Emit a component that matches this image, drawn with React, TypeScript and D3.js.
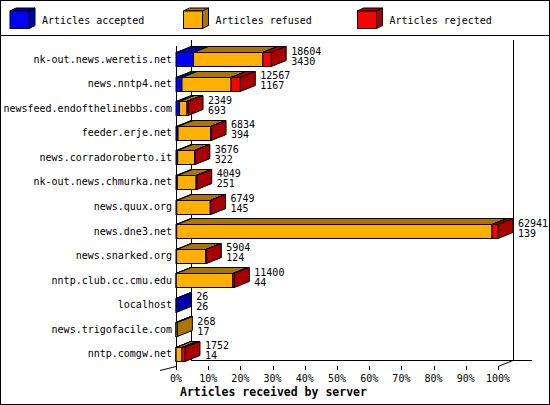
import * as d3 from 'd3';

// servers, top to bottom
const servers = [
  'nk-out.news.weretis.net',
  'news.nntp4.net',
  'newsfeed.endofthelinebbs.com',
  'feeder.erje.net',
  'news.corradoroberto.it',
  'nk-out.news.chmurka.net',
  'news.quux.org',
  'news.dne3.net',
  'news.snarked.org',
  'nntp.club.cc.cmu.edu',
  'localhost',
  'news.trigofacile.com',
  'nntp.comgw.net',
];
const offered = [18604, 12567, 2349, 6834, 3676, 4049, 6749, 62941, 5904, 11400, 26, 268, 1752];
const accepted = [3430, 1167, 693, 394, 322, 251, 145, 139, 124, 44, 26, 17, 14];
const refused = [13524, 9600, 1456, 6380, 3304, 3678, 6554, 61632, 5720, 11056, 0, 251, 1150];
const rejected = [1650, 1800, 200, 60, 50, 120, 50, 1170, 60, 300, 0, 0, 588];

const seriesNames = ['Articles accepted', 'Articles refused', 'Articles rejected'];
const seriesColors = ['#0000ff', '#ffb000', '#ff0000'];
const seriesDark = ['#0000aa', '#aa7500', '#aa0000'];

const W = 550;
const H = 405;
const DX = 15;
const DY = 6;
const FONT = '"DejaVu Sans Mono", monospace';

export default function App() {
  const x0 = 176;
  const x1 = 498;
  const maxTotal = d3.max(offered) || 1;
  const x = d3.scaleLinear().domain([0, maxTotal]).range([x0, x1]);
  const xPct = d3.scaleLinear().domain([0, 100]).range([x0, x1]);
  const y = d3.scaleBand<string>().domain(servers).range([47, 366]).paddingInner(0.43).paddingOuter(0.215);
  const bh = y.bandwidth();
  const floorY = 366;

  const stacks = servers.map((name, i) => {
    const vals = [accepted[i], refused[i], rejected[i]];
    let acc = 0;
    return vals.map((v, k) => {
      const seg = { name, k, start: acc, end: acc + v, v };
      acc += v;
      return seg;
    });
  });

  const box = (xa: number, xb: number, yt: number, k: number, key: string) => {
    const yb = yt + bh;
    const top = `M${xa},${yt}L${xa + DX},${yt - DY}L${xb + DX},${yt - DY}L${xb},${yt}Z`;
    const side = `M${xb},${yt}L${xb + DX},${yt - DY}L${xb + DX},${yb - DY}L${xb},${yb}Z`;
    return (
      <g key={key}>
        <path d={top} fill={seriesDark[k]} stroke="#000" strokeWidth={1} />
        <path d={side} fill={seriesDark[k]} stroke="#000" strokeWidth={1} />
        <rect x={xa} y={yt} width={Math.max(0, xb - xa)} height={bh} fill={seriesColors[k]} stroke="#000" strokeWidth={1} />
      </g>
    );
  };

  return (
    <svg width={W} height={H} style={{ position: 'absolute', left: 0, top: 0, background: '#fff' }} fontFamily={FONT}>
      <rect x={0.5} y={0.5} width={W - 1} height={H - 1} fill="#fff" stroke="#000" />
      <line x1={0} x2={W} y1={35.5} y2={35.5} stroke="#000" />

      {/* legend */}
      {seriesNames.map((s, k) => {
        const lx = [10, 183.5, 357.5][k];
        const ly = 11;
        return (
          <g key={s}>
            <path d={`M${lx},${ly}L${lx + 6},${ly - 3}L${lx + 25},${ly - 3}L${lx + 19},${ly}Z`} fill={seriesDark[k]} stroke="#000" />
            <path d={`M${lx + 19},${ly}L${lx + 25},${ly - 3}L${lx + 25},${ly + 14.5}L${lx + 19},${ly + 17.5}Z`} fill={seriesDark[k]} stroke="#000" />
            <rect x={lx} y={ly} width={19} height={17.5} fill={seriesColors[k]} stroke="#000" />
            <text x={lx + 32} y={24} fontSize={10}>{s}</text>
          </g>
        );
      })}

      {/* back wall and floor */}
      <g stroke="#000" strokeWidth={1} fill="none">
        <line x1={x0 + DX + 0.5} x2={x0 + DX + 0.5} y1={40} y2={floorY - DY} />
        <line x1={x1 + DX + 0.5} x2={x1 + DX + 0.5} y1={40} y2={floorY - DY} />
        <line x1={x0 + DX} x2={532} y1={floorY - DY + 0.5} y2={floorY - DY + 0.5} />
        <line x1={x1} x2={x1 + DX} y1={floorY + 0.5} y2={floorY - DY + 0.5} />
        <line x1={160} x2={x0} y1={370.5} y2={floorY + 0.5} />
        <line x1={x0 + 0.5} x2={x0 + 0.5} y1={46} y2={370} />
      </g>

      {/* bars */}
      {stacks.map((segs, i) => {
        const yt = Math.round(y(servers[i]) || 0) + 0.5;
        return (
          <g key={servers[i]}>
            {segs.filter(s => s.v > 0).map(s => box(x(s.start), x(s.end), yt, s.k, `${i}-${s.k}`))}
          </g>
        );
      })}

      {/* value labels */}
      {servers.map((name, i) => {
        const c = (y(name) || 0) + bh / 2;
        const tx = x(offered[i]) + DX + 5;
        return (
          <g key={name} fontSize={10}>
            <text x={tx} y={c - 4.5}>{offered[i]}</text>
            <text x={tx} y={c + 5.5}>{accepted[i]}</text>
          </g>
        );
      })}

      {/* category labels */}
      {servers.map(name => (
        <text key={name} x={172} y={(y(name) || 0) + bh / 2 + 3.5} fontSize={10} textAnchor="end">{name}</text>
      ))}

      {/* x axis */}
      {xPct.ticks(10).map(t => (
        <g key={t}>
          <line x1={Math.round(xPct(t)) + 0.5} x2={Math.round(xPct(t)) + 0.5} y1={floorY} y2={370} stroke="#000" />
          <text x={xPct(t)} y={381.5} fontSize={10} textAnchor="middle">{`${t}%`}</text>
        </g>
      ))}
      <text x={180} y={396} fontSize={11.5} fontWeight="bold">Articles received by server</text>
    </svg>
  );
}
